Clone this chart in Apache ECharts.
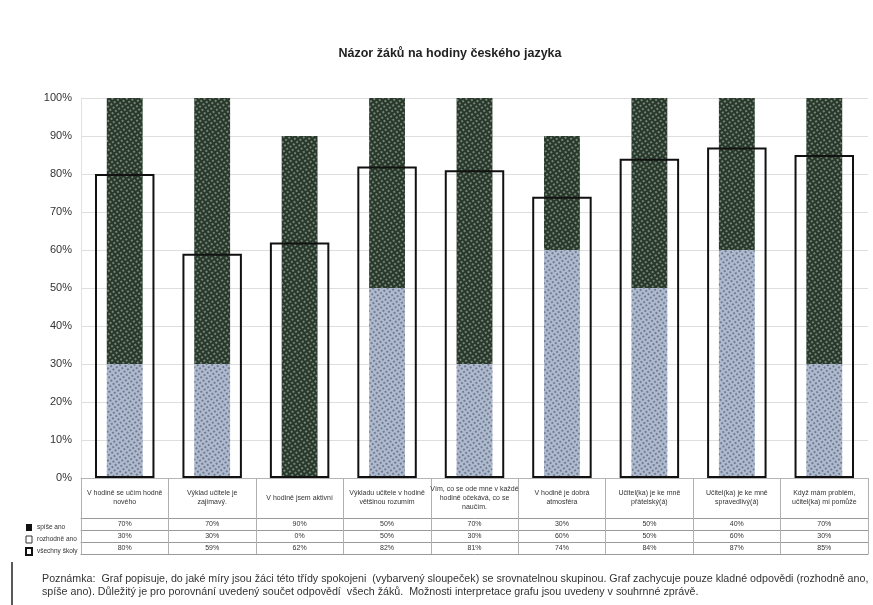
<!DOCTYPE html>
<html>
<head>
<meta charset="utf-8">
<script src="https://cdn.jsdelivr.net/npm/echarts@6/dist/echarts.min.js"></script>
<style>
html,body{margin:0;padding:0;background:#fff;}
#chart{width:873px;height:605px;}
</style>
</head>
<body>
<div id="chart"></div>
<script>
const titleText = 'Názor žáků na hodiny českého jazyka';
const categories = [
  'V hodině se učím hodně\nnového',
  'Výklad učitele je\nzajímavý.',
  'V hodině jsem aktivní',
  'Výkladu učitele v hodině\nvětšinou rozumím',
  'Vím, co se ode mne v každé\nhodině očekává, co se\nnaučím.',
  'V hodině je dobrá\natmosféra',
  'Učitel(ka) je ke mně\npřátelský(á)',
  'Učitel(ka) je ke mně\nspravedlivý(á)',
  'Když mám problém,\nučitel(ka) mi pomůže'
];
const seriesNames = ['spíše ano', 'rozhodně ano', 'všechny školy'];
const spiseAno = [70, 70, 90, 50, 70, 30, 50, 40, 70];
const rozhodneAno = [30, 30, 0, 50, 30, 60, 50, 60, 30];
const vsechnySkoly = [80, 59, 62, 82, 81, 74, 84, 87, 85];
const noteText = 'Poznámka:  Graf popisuje, do jaké míry jsou žáci této třídy spokojeni  (vybarvený sloupeček) se srovnatelnou skupinou. Graf zachycuje pouze kladné odpovědi (rozhodně ano,\nspíše ano). Důležitý je pro porovnání uvedený součet odpovědí  všech žáků.  Možnosti interpretace grafu jsou uvedeny v souhrnné zprávě.';

const rows = [spiseAno, rozhodneAno, vsechnySkoly];
const font = 'Liberation Sans, Arial, sans-serif';

function tableAxis(offset, values) {
  return {
    type: 'category', data: categories, position: 'bottom', offset: offset,
    axisLine: { show: true, onZero: false, lineStyle: { color: '#9a9a9a', width: 1 } },
    axisTick: { show: !!values, interval: 0, length: 12, lineStyle: { color: '#b0b0b0' } },
    axisLabel: {
      show: !!values, interval: 0, fontSize: 7, color: '#333', fontFamily: font,
      verticalAlign: 'middle', margin: 6,
      formatter: function (v, i) { return values ? values[i] + '%' : ''; }
    },
    splitLine: { show: false }
  };
}

const chart = echarts.init(document.getElementById('chart'), null, { renderer: 'canvas' });
const darkDecal = { symbol: 'circle', symbolSize: 0.9, color: 'rgba(225,240,225,0.6)', dashArrayX: [2, 2], dashArrayY: [2, 2], rotation: -0.6 };
const lightDecal = { symbol: 'circle', symbolSize: 0.9, color: 'rgba(30,35,45,0.6)', dashArrayX: [2, 2], dashArrayY: [2, 2], rotation: -0.6 };

chart.setOption({
  backgroundColor: '#fff',
  animation: false,
  title: {
    text: titleText, left: 445, top: 42, textAlign: 'center',
    textStyle: { fontSize: 12.5, fontWeight: 'bold', color: '#222', fontFamily: font }
  },
  legend: {
    orient: 'vertical', left: 20, top: 518, itemGap: 3, itemWidth: 6, itemHeight: 7,
    icon: 'rect',
    textStyle: { fontSize: 6.5, color: '#333', fontFamily: font, lineHeight: 9 },
    data: [
      { name: seriesNames[0], itemStyle: { color: '#111', decal: 'none' } },
      { name: seriesNames[1], itemStyle: { color: '#fff', borderColor: '#333', borderWidth: 1, decal: 'none' } },
      { name: seriesNames[2], itemStyle: { color: '#fff', borderColor: '#111', borderWidth: 2, decal: 'none' } }
    ],
    selectedMode: false
  },
  grid: { left: 81, right: 5, top: 98, bottom: 127, containLabel: false },
  xAxis: [
    {
      type: 'category', data: categories, position: 'bottom',
      axisLine: { show: true, onZero: false, lineStyle: { color: '#b5b5b5' } },
      axisTick: { show: true, interval: 0, length: 40, lineStyle: { color: '#b0b0b0' } },
      axisLabel: { interval: 0, fontSize: 7, lineHeight: 9, color: '#333', fontFamily: font, verticalAlign: 'middle', margin: 20, align: 'center' }
    },
    { type: 'category', data: categories, position: 'bottom', show: false },
    tableAxis(40, rows[0]),
    tableAxis(52, rows[1]),
    tableAxis(64, rows[2]),
    tableAxis(76, null)
  ],
  yAxis: {
    type: 'value', min: 0, max: 100, interval: 10,
    axisLine: { show: true, lineStyle: { color: '#e2e2e2' } },
    axisTick: { show: false },
    axisLabel: { formatter: '{value}%', fontSize: 11, color: '#333', fontFamily: font, margin: 9 },
    splitLine: { show: true, lineStyle: { color: '#dedede', width: 1 } }
  },
  series: [
    {
      name: seriesNames[1], type: 'bar', stack: 'tot', xAxisIndex: 0, barWidth: '41%',
      data: rozhodneAno,
      itemStyle: { color: '#aebad0', decal: lightDecal }
    },
    {
      name: seriesNames[0], type: 'bar', stack: 'tot', xAxisIndex: 0, barWidth: '41%',
      data: spiseAno,
      itemStyle: { color: '#28392c', decal: darkDecal }
    },
    {
      name: seriesNames[2], type: 'bar', xAxisIndex: 1, barWidth: '68%', z: 5,
      data: vsechnySkoly,
      itemStyle: { color: 'rgba(255,255,255,0)', borderColor: '#111', borderWidth: 2 }
    }
  ],
  graphic: [
    { type: 'line', shape: { x1: 12, y1: 562, x2: 12, y2: 605 }, style: { stroke: '#222', lineWidth: 1.5 } },
    { type: 'text', left: 42, top: 573, style: { text: noteText, fontSize: 10.7, lineHeight: 12.5, fill: '#333', fontFamily: font } }
  ]
});
</script>
</body>
</html>
